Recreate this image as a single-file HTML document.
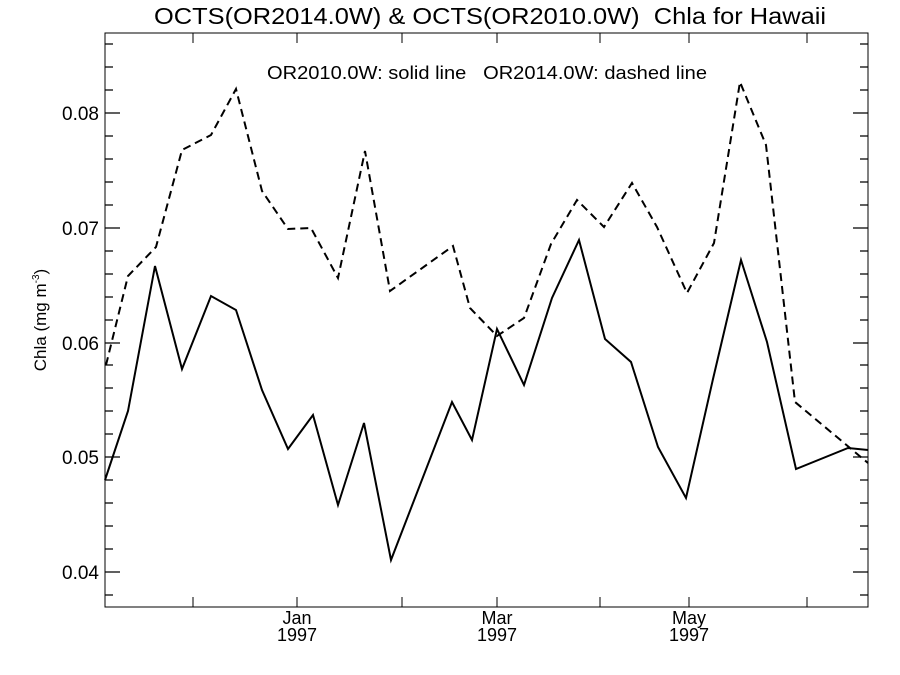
<!DOCTYPE html>
<html><head><meta charset="utf-8"><style>
html,body{margin:0;padding:0;background:#fff;}
svg{display:block;font-family:"Liberation Sans",sans-serif;}
text{white-space:pre;}
</style></head><body>
<svg width="900" height="675" xmlns="http://www.w3.org/2000/svg">
<rect width="900" height="675" fill="#fff"/>
<text x="490" y="24" font-size="23" text-anchor="middle" textLength="672" lengthAdjust="spacingAndGlyphs">OCTS(OR2014.0W) &amp; OCTS(OR2010.0W)  Chla for Hawaii</text>
<text x="487" y="79" font-size="18" text-anchor="middle" textLength="440" lengthAdjust="spacingAndGlyphs">OR2010.0W: solid line   OR2014.0W: dashed line</text>
<rect x="105" y="33" width="763" height="574" fill="none" stroke="#000" stroke-width="1"/>
<g stroke="#000" stroke-width="1.3">
<path d="M105 572h15M105 457h15M105 343h15M105 228h15M105 113h15M868 572h-15M868 457h-15M868 343h-15M868 228h-15M868 113h-15"/>
<path d="M105 595h8M105 549h8M105 526h8M105 503h8M105 480h8M105 434h8M105 411h8M105 388h8M105 365h8M105 320h8M105 297h8M105 274h8M105 251h8M105 205h8M105 182h8M105 159h8M105 136h8M105 90h8M105 67h8M105 44h8"/>
<path d="M868 595h-8M868 549h-8M868 526h-8M868 503h-8M868 480h-8M868 434h-8M868 411h-8M868 388h-8M868 365h-8M868 320h-8M868 297h-8M868 274h-8M868 251h-8M868 205h-8M868 182h-8M868 159h-8M868 136h-8M868 90h-8M868 67h-8M868 44h-8"/>
<path d="M193 607v-10M297 607v-10M402 607v-10M497 607v-10M600 607v-10M689 607v-10M807 607v-10M193 33v10M297 33v10M402 33v10M497 33v10M600 33v10M689 33v10M807 33v10" stroke-width="1"/>
</g>
<g font-size="19" text-anchor="end">
<text x="99" y="579">0.04</text><text x="99" y="464">0.05</text><text x="99" y="350">0.06</text><text x="99" y="235">0.07</text><text x="99" y="120">0.08</text>
</g>
<g font-size="18" text-anchor="middle">
<text x="297" y="624">Jan</text><text x="297" y="641">1997</text>
<text x="497" y="624">Mar</text><text x="497" y="641">1997</text>
<text x="689" y="624">May</text><text x="689" y="641">1997</text>
</g>
<text transform="translate(46,320) rotate(-90)" font-size="17" text-anchor="middle">Chla (mg m<tspan font-size="10" dy="-7">-3</tspan><tspan dy="7">)</tspan></text>
<polyline fill="none" stroke="#000" stroke-width="2" stroke-dasharray="8,5" points="106,365 128,276 156,247 182,150 211,135 236,89 262,191 288,229 311,228 338,278 365,151 390,291 453,246 470,308 497,336 524,318 551,244 577,200 604,227 632,183 657,227 687,293 714,243 740,82 766,145 795,402 868,463"/>
<polyline fill="none" stroke="#000" stroke-width="2" points="105,480 128,411 155,266 182,369 211,296 236,310 262,390 288,449 313,415 338,505 364,423 391,560 452,402 472,440 497,329 524,385 552,298 579,240 605,339 631,362 658,447 686,498 713,379 741,260 767,342 796,469 848,448 868,450"/>
</svg>
</body></html>
